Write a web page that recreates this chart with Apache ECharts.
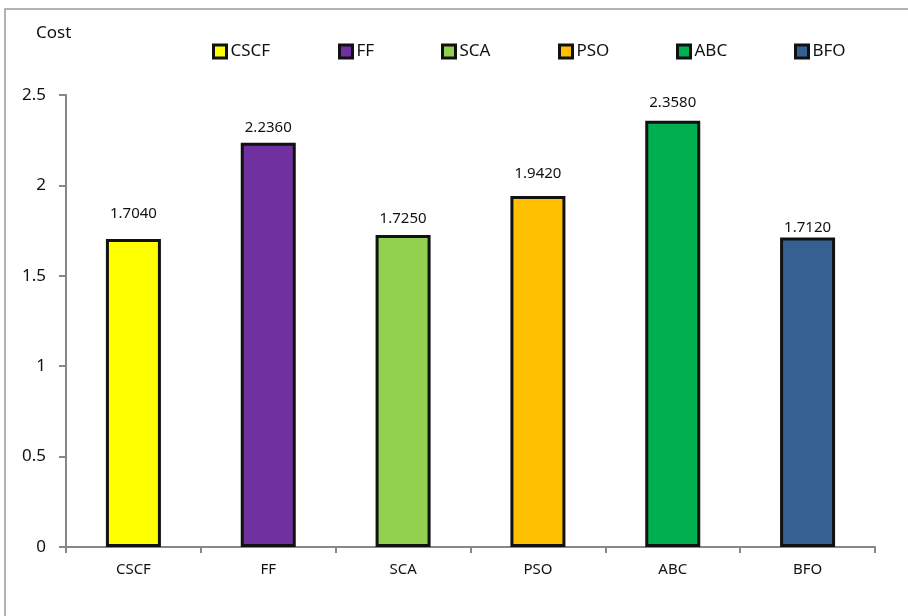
<!DOCTYPE html>
<html>
<head>
<meta charset="utf-8">
<script src="https://cdn.jsdelivr.net/npm/echarts@6/dist/echarts.min.js"></script>
<style>
  html, body { margin: 0; padding: 0; background: #fff; }
  #chart { width: 908px; height: 616px; }
</style>
</head>
<body>
<div id="chart"></div>
<script>
// Algorithms compared and their final cost
const categories = ['CSCF', 'FF', 'SCA', 'PSO', 'ABC', 'BFO'];
const costValues = [1.704, 2.236, 1.725, 1.942, 2.358, 1.712];
const barColors = ['#FFFF00', '#7030A0', '#92D050', '#FFC000', '#00B050', '#376092'];
const yTicks = { min: 0, max: 2.5, interval: 0.5 };

// per-bar spacing of the value label above the bar, and legend x positions
const labelDistance = [18, 7, 9, 15, 10, 2];
const legendLeft = [207, 333, 436, 553, 671, 789];

const font = '"Noto Sans", "Liberation Sans", sans-serif';
const axisGray = '#878787';

const series = categories.map((name, i) => ({
  name: name,
  type: 'bar',
  barWidth: 55,
  barGap: '-100%',
  data: categories.map((c, j) => (j === i ? costValues[j] : '-')),
  itemStyle: { color: barColors[i], borderColor: '#111', borderWidth: 3 },
  label: {
    show: true,
    position: 'top',
    distance: labelDistance[i],
    formatter: p => Number(p.value).toFixed(4),
    fontFamily: font,
    fontSize: 15,
    color: '#111'
  }
}));

const legends = categories.map((name, i) => ({
  data: [name],
  left: legendLeft[i],
  top: 38,
  icon: 'rect',
  itemWidth: 13,
  itemHeight: 13,
  itemGap: 4,
  selectedMode: false,
  itemStyle: { borderColor: '#111', borderWidth: 3 },
  textStyle: { fontFamily: font, fontSize: 17, color: '#111', padding: [0, 0, 0, -1] }
}));

const chart = echarts.init(document.getElementById('chart'), null, { renderer: 'canvas' });
chart.setOption({
  animation: false,
  backgroundColor: '#fff',
  title: {
    text: 'Cost',
    left: 31,
    top: 20,
    textStyle: { fontFamily: font, fontSize: 17, fontWeight: 'normal', color: '#111' }
  },
  legend: legends,
  graphic: [{
    type: 'rect',
    shape: { x: 5, y: 9, width: 1000, height: 1000 },
    style: { fill: null, stroke: '#9a9a9a', lineWidth: 1.5 },
    silent: true
  }],
  grid: { left: 66, top: 95, right: 33, bottom: 69, containLabel: false },
  xAxis: {
    type: 'category',
    data: categories,
    axisLine: { lineStyle: { color: axisGray, width: 2 } },
    axisTick: { show: true, length: 6, alignWithLabel: false, lineStyle: { color: axisGray, width: 2 } },
    axisLabel: { fontFamily: font, fontSize: 15, color: '#111', margin: 15 },
    splitLine: { show: false }
  },
  yAxis: {
    type: 'value',
    min: yTicks.min,
    max: yTicks.max,
    interval: yTicks.interval,
    axisLine: { show: true, lineStyle: { color: axisGray, width: 2 } },
    axisTick: { show: true, length: 7, lineStyle: { color: axisGray, width: 2 } },
    axisLabel: { fontFamily: font, fontSize: 17, color: '#111', margin: 20 },
    splitLine: { show: false }
  },
  series: series
});
</script>
</body>
</html>
